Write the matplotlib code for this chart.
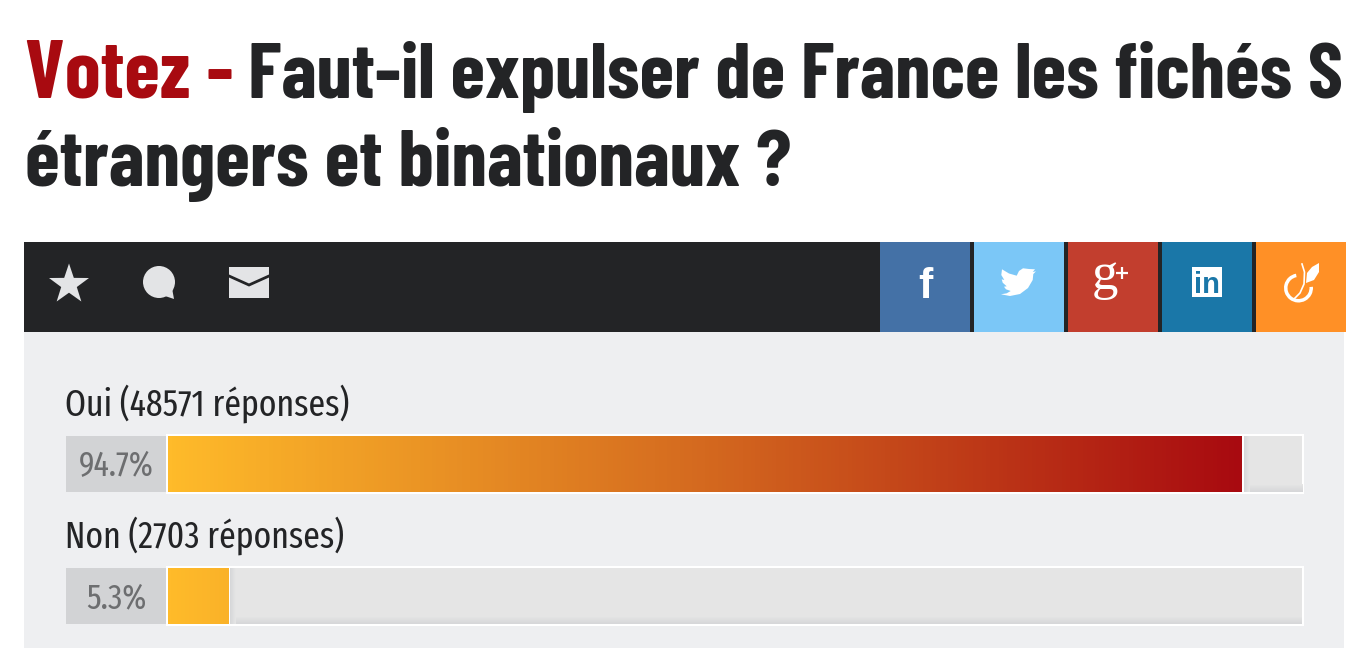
import matplotlib
matplotlib.use("Agg")
import matplotlib.pyplot as plt
import numpy as np
from matplotlib.colors import LinearSegmentedColormap
from matplotlib.patches import Rectangle, Circle, Polygon, Wedge

W, H = 1361, 648

# poll data
labels = ["Oui (48571 réponses)", "Non (2703 réponses)"]
counts_pct = [94.7, 5.3]
pct_labels = ["94.7%", "5.3%"]
title_red = "Votez -"
title_line1 = "Faut-il expulser de France les fichés S"
title_line2 = "étrangers et binationaux ?"

social_colors = ["#4471a6", "#7bc7f7", "#c23e2e", "#1a77a8", "#ff9026"]
social_left = [880, 974, 1068, 1162, 1256]

DARK = "#232426"
PANEL = "#eeeff1"
TRACK = "#e5e5e5"
SHADOW = "#d6d7d9"
PCTBOX = "#d2d3d5"
ICON = "#e3e4e6"
NARROW = ["Fira Sans Extra Condensed", "Roboto", "DejaVu Sans"]
HEAD = ["Barlow Condensed", "Roboto", "DejaVu Sans"]

fig = plt.figure(figsize=(W / 100, H / 100), dpi=100, facecolor="white")
# one axes in pixel units for the page furniture
ax = fig.add_axes([0, 0, 1, 1])
ax.set_xlim(0, W)
ax.set_ylim(H, 0)
ax.axis("off")

# title
ax.text(25, 98, title_red, color="#a80a10", fontsize=58.6, fontweight="bold",
        family=HEAD, va="baseline", ha="left")
ax.text(248, 98, title_line1, color=DARK, fontsize=56.9, fontweight="bold",
        family=HEAD, va="baseline", ha="left")
ax.text(25, 186, title_line2, color=DARK, fontsize=57.4, fontweight="bold",
        family=HEAD, va="baseline", ha="left")

# panel and toolbar
ax.add_patch(Rectangle((24, 332), 1320, 316, fc=PANEL, ec="none"))
ax.add_patch(Rectangle((24, 242), 1320, 90, fc=DARK, ec="none"))
for x0, c in zip(social_left, social_colors):
    ax.add_patch(Rectangle((x0, 242), 90, 90, fc=c, ec="none"))

# star
ang = np.deg2rad(-90 + 36 * np.arange(10))
rad = np.where(np.arange(10) % 2 == 0, 21, 8.2)
ax.add_patch(Polygon(np.c_[69 + rad * np.cos(ang), 284.5 + rad * np.sin(ang)], fc=ICON, ec="none"))
# speech bubble
ax.add_patch(Circle((159, 282), 16, fc=ICON, ec="none"))
ax.add_patch(Polygon([(165, 296), (174, 299), (172, 288)], fc=ICON, ec="none"))
# envelope
ax.add_patch(Rectangle((229, 267), 40, 31, fc=ICON, ec="none"))
ax.plot([229, 249, 269], [276, 285, 276], color=DARK, lw=2.0, solid_joinstyle="miter")

# facebook / g+ / linkedin glyphs
ax.text(925, 298, "f", color="white", fontsize=31, fontweight="bold",
        family="Liberation Sans", ha="center", va="baseline")
ax.text(1105, 289, "g", color="white", fontsize=38,
        family="Liberation Serif", ha="center", va="baseline")
ax.plot([1116, 1128], [273, 273], color="white", lw=1.6, solid_capstyle="butt")
ax.plot([1122, 1122], [267, 279], color="white", lw=1.6, solid_capstyle="butt")
ax.add_patch(Rectangle((1192, 267), 30, 30, fc="white", ec="none"))
ax.text(1207, 293, "in", color="#1a77a8", fontsize=21, fontweight="bold",
        family="Liberation Sans", ha="center", va="baseline")
# twitter bird
bird = [(1002, 269.3), (1009, 273.5), (1016.7, 275.7), (1019, 271), (1023, 268.3), (1029, 269),
        (1035, 269.3), (1032.7, 272), (1036, 271.3), (1033.3, 274), (1032.7, 280), (1028, 288),
        (1020, 294), (1010, 296), (1001, 294.3), (1006.7, 293.3), (1010.7, 291), (1006, 289.3),
        (1004, 286.7), (1006.7, 286.3), (1002.7, 282.7), (1001.7, 279.3), (1004.3, 280), (1001.3, 275)]
ax.add_patch(Polygon(bird, fc="white", ec="none"))
# orange mark: open ring, leaf and stem
ax.add_patch(Wedge((1298.5, 288), 14.5, -5, 260, width=3.5, fc="white", ec="none"))
ax.add_patch(Polygon([(1306, 283), (1307, 273), (1312, 267), (1319, 263), (1319, 272), (1314, 280)],
                     fc="white", ec="none"))
ax.plot([1302, 1304.5, 1304, 1300, 1293], [264, 272, 284, 293, 300], color="white", lw=1.2)

# rows
row_top = [436, 568]
label_base = [416, 548]
bar_h = 56
TX0, TX1 = 168, 1302
for lab, pl, top, lb in zip(labels, pct_labels, row_top, label_base):
    ax.text(65, lb, lab, color=DARK, fontsize=26.4, family=NARROW, va="baseline", ha="left")
    ax.add_patch(Rectangle((166, top - 2), 1138, bar_h + 4, fc="white", ec="none"))
    ax.add_patch(Rectangle((66, top), 100, bar_h, fc=PCTBOX, ec="none"))
    ax.text(116, top + 40, pl, color="#6d6e70", fontsize=25, family=NARROW, va="baseline", ha="center")

# bars in their own axes, scale 0-100 %
bax = fig.add_axes([TX0 / W, 0, (TX1 - TX0) / W, 1], zorder=2)
bax.axis("off")
bax.patch.set_alpha(0)
cmap = LinearSegmentedColormap.from_list("votes", ["#ffbb2a", "#d4691f", "#a80a10"])
shade = LinearSegmentedColormap.from_list("shade", [TRACK, SHADOW])
for pct, top in zip(counts_pct, row_top):
    bax.barh(top + bar_h / 2, 100, height=bar_h, color=TRACK)
    # soft inner shadow along the bottom and left of the empty track
    grad = np.linspace(0, 1, 8).reshape(-1, 1)
    bax.imshow(grad, extent=(pct, 100, top + bar_h, top + bar_h - 8), aspect="auto", cmap=shade, zorder=1)
    side = np.linspace(1, 0, 8).reshape(1, -1)
    bax.imshow(side, extent=(pct + 0.18, pct + 0.7, top + bar_h, top), aspect="auto", cmap=shade, zorder=1)
    bax.barh(top + bar_h / 2, pct + 0.18, height=bar_h, color="white", zorder=2)
    # colour follows the vote share, so the short bar stays yellow
    frac = np.linspace(0, pct / counts_pct[0], 256).reshape(1, -1)
    bax.imshow(frac, extent=(0, pct, top + bar_h, top), aspect="auto", cmap=cmap,
               vmin=0, vmax=1, zorder=3)
bax.set_xlim(0, 100)
bax.set_ylim(H, 0)

fig.savefig("out.png", dpi=100, facecolor="white")
